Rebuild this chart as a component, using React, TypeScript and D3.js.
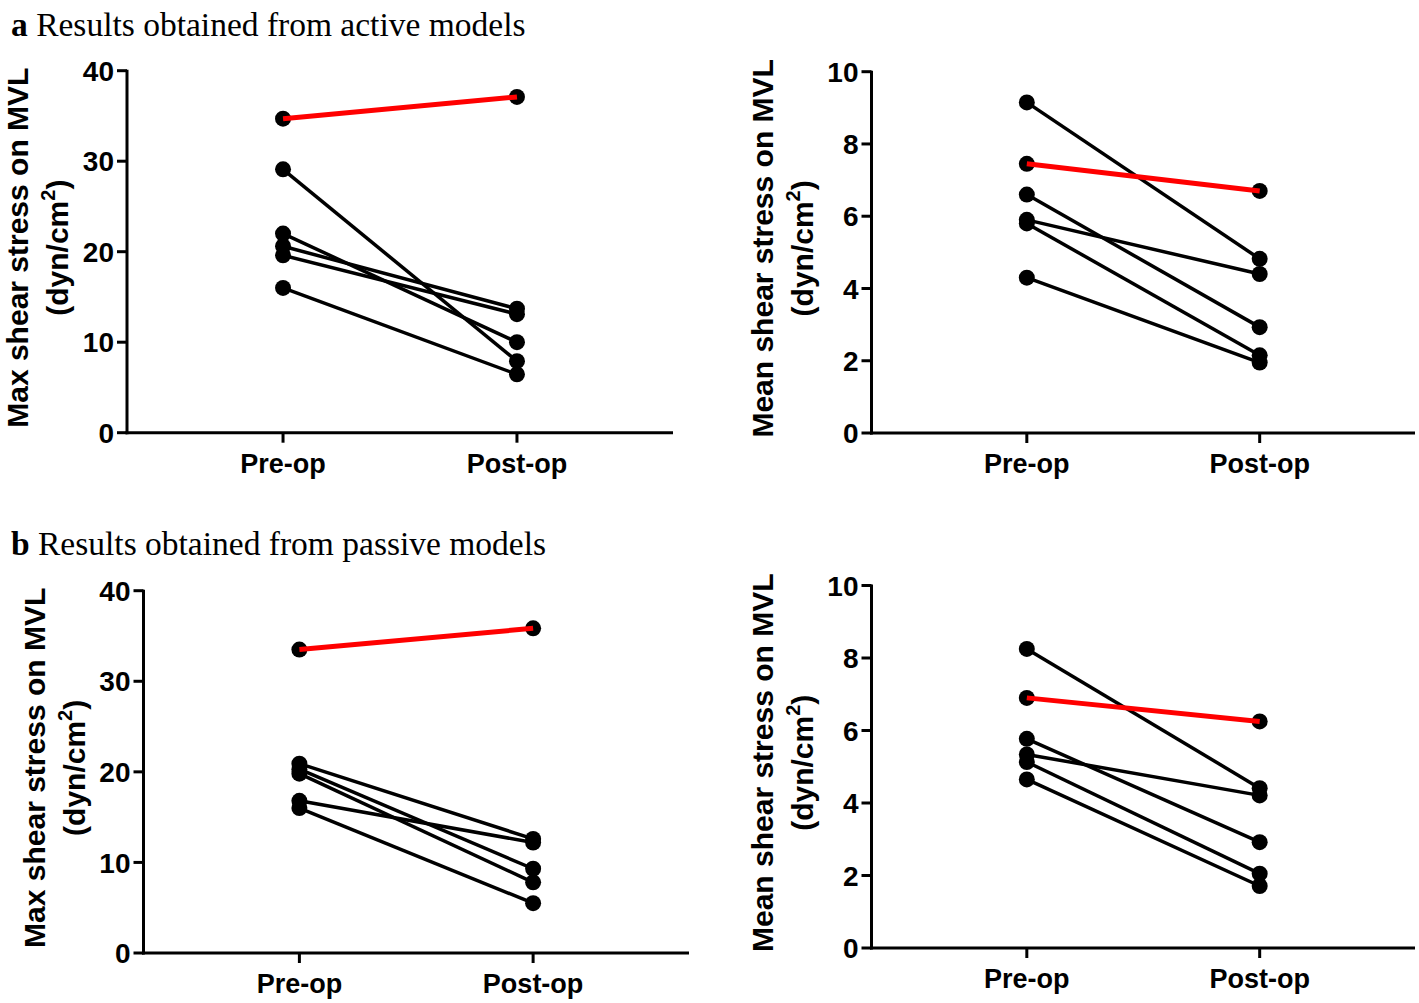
import React from "react";
import * as d3 from "d3";

const categories = ["Pre-op", "Post-op"];

// a) active models – max shear stress
const activeMaxPre = [29.1, 22.0, 20.6, 19.6, 16.0];
const activeMaxPost = [7.9, 10.0, 13.7, 13.1, 6.45];
const activeMaxRed = [34.7, 37.1];

// a) active models – mean shear stress
const activeMeanPre = [9.15, 6.6, 5.9, 5.8, 4.3];
const activeMeanPost = [4.82, 2.93, 4.4, 2.15, 1.95];
const activeMeanRed = [7.45, 6.7];

// b) passive models – max shear stress
const passiveMaxPre = [20.9, 20.3, 19.8, 16.8, 16.0];
const passiveMaxPost = [12.6, 9.3, 7.8, 12.2, 5.5];
const passiveMaxRed = [33.5, 35.85];

// b) passive models – mean shear stress
const passiveMeanPre = [8.25, 5.77, 5.34, 5.13, 4.65];
const passiveMeanPost = [4.41, 2.92, 4.21, 2.05, 1.71];
const passiveMeanRed = [6.9, 6.25];

const maxTicks = [0, 10, 20, 30, 40];
const meanTicks = [0, 2, 4, 6, 8, 10];

const titleA = "Results obtained from active models";
const titleB = "Results obtained from passive models";
const maxLabel = "Max shear stress on MVL";
const meanLabel = "Mean shear stress on MVL";

type PanelProps = {
  x0: number;
  x1: number;
  yTop: number;
  yBot: number;
  ymax: number;
  ticks: number[];
  pre: number[];
  post: number[];
  red: number[];
  label: string;
};

const SANS = "'Liberation Sans', Arial, sans-serif";
const SERIF = "'Liberation Serif', 'Times New Roman', serif";

function Panel({ x0, x1, yTop, yBot, ymax, ticks, pre, post, red, label }: PanelProps) {
  const x = d3.scalePoint<string>().domain(categories).range([x0, x1]).padding(0.667);
  const y = d3.scaleLinear().domain([0, ymax]).range([yBot, yTop]);
  const line = d3
    .line<[string, number]>()
    .x((d) => x(d[0]) as number)
    .y((d) => y(d[1]));
  const pairs: [string, number][][] = pre.map((v, i) => [
    [categories[0], v],
    [categories[1], post[i]],
  ]);
  const redPair: [string, number][] = [
    [categories[0], red[0]],
    [categories[1], red[1]],
  ];
  const midY = (yTop + yBot) / 2 - 4;
  return (
    <g>
      {/* axes */}
      <line x1={x0} x2={x0} y1={yTop - 1} y2={yBot + 1.5} stroke="#000" strokeWidth={3} />
      <line x1={x0 - 1.5} x2={x1} y1={yBot} y2={yBot} stroke="#000" strokeWidth={3} />
      {ticks.map((t) => (
        <g key={t}>
          <line x1={x0 - 10} x2={x0} y1={y(t)} y2={y(t)} stroke="#000" strokeWidth={3} />
          <text
            x={x0 - 13}
            y={y(t)}
            dy="0.36em"
            textAnchor="end"
            fontFamily={SANS}
            fontWeight="bold"
            fontSize={28}
          >
            {t}
          </text>
        </g>
      ))}
      {categories.map((c) => (
        <g key={c}>
          <line x1={x(c)} x2={x(c)} y1={yBot} y2={yBot + 10} stroke="#000" strokeWidth={3} />
          <text
            x={x(c)}
            y={yBot + 40}
            textAnchor="middle"
            fontFamily={SANS}
            fontWeight="bold"
            fontSize={27}
          >
            {c}
          </text>
        </g>
      ))}
      {/* axis title */}
      <text
        transform={`translate(${x0 - 99},${midY}) rotate(-90)`}
        textAnchor="middle"
        fontFamily={SANS}
        fontWeight="bold"
        fontSize={30}
      >
        {label}
      </text>
      <text
        transform={`translate(${x0 - 59},${midY}) rotate(-90)`}
        textAnchor="middle"
        fontFamily={SANS}
        fontWeight="bold"
        fontSize={30}
      >
        (dyn/cm
        <tspan fontSize={20} dy={-13}>
          2
        </tspan>
        <tspan dy={13}>)</tspan>
      </text>
      {/* data */}
      {pairs.map((p, i) => (
        <path key={"l" + i} d={line(p) || ""} fill="none" stroke="#000" strokeWidth={3.5} />
      ))}
      {[...pairs, redPair].flatMap((p, i) =>
        p.map((d, j) => <circle key={`c${i}-${j}`} cx={x(d[0])} cy={y(d[1])} r={8} fill="#000" />)
      )}
      <path d={line(redPair) || ""} fill="none" stroke="#ff0000" strokeWidth={5} />
    </g>
  );
}

export default function App() {
  return (
    <svg
      width={1419}
      height={1003}
      style={{ position: "absolute", left: 0, top: 0, background: "#fff" }}
    >
      <text x={11} y={36} fontFamily={SERIF} fontSize={33.5}>
        <tspan fontWeight="bold">a</tspan> {titleA}
      </text>
      <text x={11} y={555} fontFamily={SERIF} fontSize={33.5}>
        <tspan fontWeight="bold">b</tspan> {titleB}
      </text>
      <Panel x0={127} x1={673} yTop={70.7} yBot={432.7} ymax={40} ticks={maxTicks}
        pre={activeMaxPre} post={activeMaxPost} red={activeMaxRed} label={maxLabel} />
      <Panel x0={871.5} x1={1415} yTop={71.7} yBot={433} ymax={10} ticks={meanTicks}
        pre={activeMeanPre} post={activeMeanPost} red={activeMeanRed} label={meanLabel} />
      <Panel x0={143.5} x1={689} yTop={590.7} yBot={953} ymax={40} ticks={maxTicks}
        pre={passiveMaxPre} post={passiveMaxPost} red={passiveMaxRed} label={maxLabel} />
      <Panel x0={871.5} x1={1415} yTop={585.5} yBot={948} ymax={10} ticks={meanTicks}
        pre={passiveMeanPre} post={passiveMeanPost} red={passiveMeanRed} label={meanLabel} />
    </svg>
  );
}
